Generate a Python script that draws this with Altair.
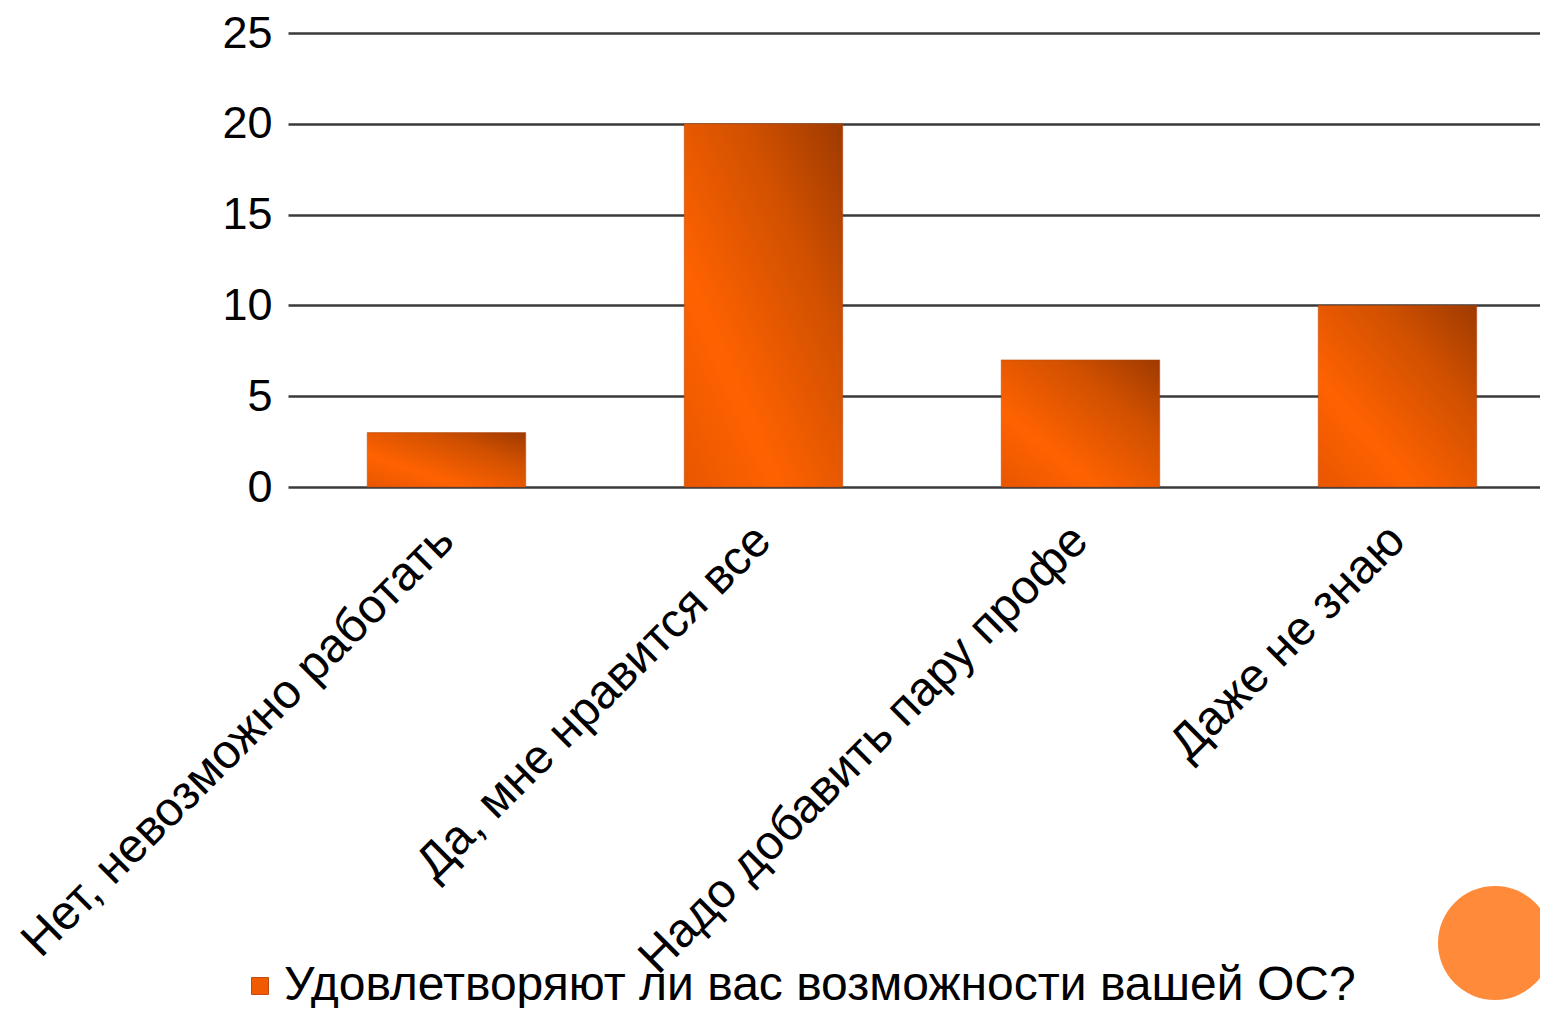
import altair as alt
import pandas as pd

categories = ["Нет, невозможно работать", "Да, мне нравится все", "Надо добавить пару профе", "Даже не знаю"]
values = [3, 20, 7, 10]
series_name = "Удовлетворяют ли вас возможности вашей ОС?"
y_ticks = [0, 5, 10, 15, 20, 25]

df = pd.DataFrame({"cat": categories, "val": values, "series": [series_name] * len(categories)})

FONT = "Liberation Sans"

gradient = alt.Gradient(
    gradient="linear",
    x1=0, y1=1, x2=1, y2=0,
    stops=[
        alt.GradientStop(color="#E85600", offset=0),
        alt.GradientStop(color="#FF6200", offset=0.3),
        alt.GradientStop(color="#D05000", offset=0.7),
        alt.GradientStop(color="#9E3A00", offset=1),
    ],
)

x_enc = alt.X(
    "cat:N",
    sort=categories,
    scale=alt.Scale(paddingInner=0.5, paddingOuter=0.2248, align=0.556),
    axis=alt.Axis(
        title=None,
        labelAngle=-45,
        labelAlign="right",
        labelBaseline="middle",
        labelFontSize=48,
        labelFont=FONT,
        labelColor="#000000",
        labelPadding=46,
        labelLimit=1000,
        ticks=False,
        domain=False,
        grid=False,
    ),
)
y_enc = alt.Y(
    "val:Q",
    scale=alt.Scale(domain=[0, 25], nice=False),
    axis=alt.Axis(
        title=None,
        values=y_ticks,
        labelFontSize=45,
        labelFont=FONT,
        labelColor="#000000",
        labelPadding=16,
        ticks=False,
        domain=False,
        grid=True,
        gridColor="#3a3a3a",
        gridWidth=2.5,
    ),
)

bars = alt.Chart(df).mark_bar(fill=gradient, stroke="#B04A10", strokeWidth=1, strokeOpacity=0.5).encode(
    x=x_enc, y=y_enc
)

legend_layer = alt.Chart(df).mark_point(opacity=0, filled=True, shape="square").encode(
    x=alt.X("cat:N", sort=categories),
    y=alt.Y("val:Q"),
    color=alt.Color(
        "series:N",
        title=None,
        scale=alt.Scale(range=["#F05A00"]),
        legend=alt.Legend(
            orient="none",
            legendX=-62,
            legendY=929,
            symbolType="square",
            symbolSize=289,
            symbolOpacity=1,
            symbolOffset=10,
            symbolFillColor="#F05A00",
            symbolStrokeColor="#C04A10",
            symbolStrokeWidth=1,
            labelFontSize=48,
            labelFont=FONT,
            labelColor="#000000",
            labelOffset=0,
            labelLimit=2000,
        ),
    ),
)

circle = alt.Chart(pd.DataFrame({"d": [1]})).mark_circle(color="#FF8A3A", opacity=1, size=13000).encode(
    x=alt.value(1207), y=alt.value(910)
)

chart = alt.layer(bars, legend_layer, circle).properties(
    width=1252,
    height=454,
    padding={"left": 280, "top": 25, "right": 0, "bottom": 521},
    autosize=alt.AutoSizeParams(type="none"),
).configure_view(stroke=None)

chart.save("out.html", embed_options={"renderer": "svg", "actions": False})
